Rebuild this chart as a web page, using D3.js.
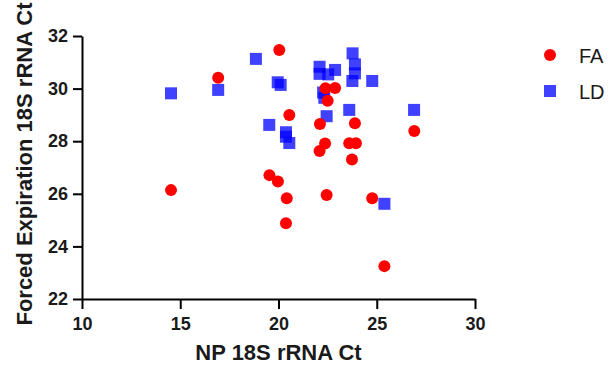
<!DOCTYPE html>
<html>
<head>
<meta charset="utf-8">
<script src="https://cdn.jsdelivr.net/npm/d3@7"></script>
<style>
  html, body { margin: 0; padding: 0; background: #fff; }
  svg { display: block; font-family: Arial, "Liberation Sans", sans-serif; }
</style>
</head>
<body>
<svg id="chart" width="610" height="366"></svg>
<script>
// NP 18S Ct vs forced expiration 18S Ct, two groups
const faX = [14.53, 16.93, 20.04, 20.55, 22.39, 22.88, 22.5, 22.11, 23.89, 22.37, 22.09,
             23.6, 23.94, 23.74, 26.91, 19.54, 19.97, 20.42, 20.38, 22.45, 24.77, 25.39];
const faY = [26.14, 30.41, 31.47, 29.0, 30.01, 30.02, 29.54, 28.65, 28.68, 27.91, 27.63,
             27.92, 27.92, 27.3, 28.39, 26.71, 26.47, 25.83, 24.88, 25.95, 25.83, 23.25];

const ldX = [14.53, 16.93, 18.85, 19.96, 20.11, 19.53, 20.38, 20.38, 20.55, 22.09, 22.09, 22.53,
             22.88, 23.77, 23.89, 23.89, 23.76, 24.77, 22.27, 22.33, 22.45, 23.6, 26.9, 25.39];
const ldY = [29.82, 29.95, 31.13, 30.24, 30.14, 28.62, 28.34, 28.17, 27.93, 30.83, 30.56, 30.54,
             30.71, 31.34, 30.92, 30.58, 30.29, 30.29, 29.85, 29.65, 28.95, 29.19, 29.19, 25.62];

const xTicks = [10, 15, 20, 25, 30];
const yTicks = [22, 24, 26, 28, 30, 32];
const seriesNames = ['FA', 'LD'];

const svg = d3.select('#chart');
const plotLeft = 82, plotRight = 475, plotTop = 36, plotBottom = 299;

const x = d3.scaleLinear().domain([10, 30]).range([plotLeft, plotRight]);
const y = d3.scaleLinear().domain([22, 32]).range([plotBottom, plotTop]);

const xAxis = svg.append('g')
    .attr('transform', `translate(0,${plotBottom})`)
    .call(d3.axisBottom(x).tickValues(xTicks).tickSize(10).tickSizeOuter(0).tickPadding(8));
const yAxis = svg.append('g')
    .attr('transform', `translate(${plotLeft},0)`)
    .call(d3.axisLeft(y).tickValues(yTicks).tickSize(9).tickSizeOuter(0).tickPadding(5));

[xAxis, yAxis].forEach(function (g) {
    g.selectAll('path, line').attr('stroke', '#000').attr('stroke-width', 2);
    g.selectAll('text')
        .attr('fill', '#1a1a1a')
        .style('font-size', '18px')
        .style('font-weight', 'bold')
        .style('font-family', 'Arial, "Liberation Sans", sans-serif');
});

svg.append('text')
    .attr('x', (plotLeft + plotRight) / 2)
    .attr('y', 360)
    .attr('text-anchor', 'middle')
    .style('font-size', '22px')
    .style('font-weight', 'bold')
    .attr('fill', '#1a1a1a')
    .text('NP 18S rRNA Ct');

svg.append('text')
    .attr('transform', `translate(32,164) rotate(-90)`)
    .attr('text-anchor', 'middle')
    .style('font-size', '22px')
    .style('font-weight', 'bold')
    .attr('fill', '#1a1a1a')
    .text('Forced Expiration 18S rRNA Ct');

const ld = d3.range(ldX.length).map(i => ({ x: ldX[i], y: ldY[i] }));
const fa = d3.range(faX.length).map(i => ({ x: faX[i], y: faY[i] }));

svg.append('g')
    .selectAll('rect')
    .data(ld)
    .join('rect')
    .attr('x', d => x(d.x) - 6)
    .attr('y', d => y(d.y) - 6)
    .attr('width', 12)
    .attr('height', 12)
    .attr('fill', '#0000ff')
    .attr('fill-opacity', 0.75);

svg.append('g')
    .selectAll('circle')
    .data(fa)
    .join('circle')
    .attr('cx', d => x(d.x))
    .attr('cy', d => y(d.y))
    .attr('r', 6)
    .attr('fill', '#ff0000');

// legend
const legend = svg.append('g').attr('transform', 'translate(550,55)');
legend.append('circle').attr('cx', 0).attr('cy', 0).attr('r', 6).attr('fill', '#ff0000');
legend.append('rect').attr('x', -6).attr('y', 30).attr('width', 12).attr('height', 12)
    .attr('fill', '#0000ff').attr('fill-opacity', 0.75);
legend.selectAll('text')
    .data(seriesNames)
    .join('text')
    .attr('x', 29)
    .attr('y', (d, i) => 8 + i * 36)
    .style('font-size', '20px')
    .attr('fill', '#1a1a1a')
    .text(d => d);
</script>
</body>
</html>
